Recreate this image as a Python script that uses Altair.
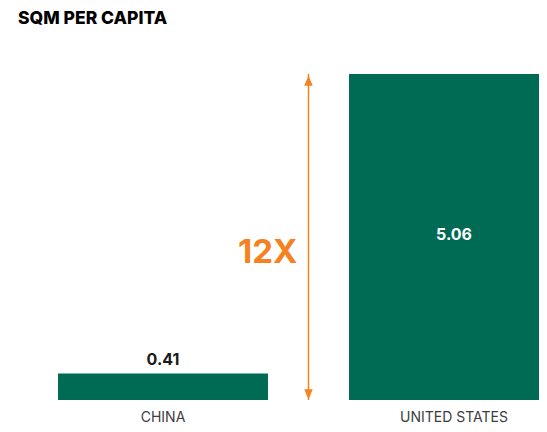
import altair as alt
import pandas as pd

countries = ["CHINA", "UNITED STATES"]
values = [0.41, 5.06]
ratio_label = "12X"
title_text = "SQM PER CAPITA"

GREEN = "#006B55"
ORANGE = "#F5821F"
FONT = "Inter"

df = pd.DataFrame({"country": countries, "value": values})
arrow_df = pd.DataFrame({
    "country": [countries[1]],
    "anchor": [countries[0]],
    "top": [max(values)],
    "bottom": [0.0],
    "mid": [max(values) / 2],
    "label": [ratio_label],
})

PAD_INNER = 0.2784
xscale = alt.Scale(domain=countries, range=[50, 551], paddingInner=PAD_INNER, paddingOuter=0)
yscale = alt.Scale(domain=[0, 5.556], nice=False, zero=True)
xaxis = alt.Axis(title=None, labelAngle=0, ticks=False, domain=False, grid=False,
                 labelFont=FONT, labelFontSize=14, labelColor="#3c3c3c", labelPadding=10)
GAP_HALF = 40.5  # half of the gap between the two bands


def X(field="country:N", **kw):
    return alt.X(field, scale=xscale, axis=xaxis, sort=None, **kw)


base = alt.Chart(df)
bars = base.mark_bar(color=GREEN).encode(
    x=X(), y=alt.Y("value:Q", scale=yscale, axis=None)
)
lab_out = base.transform_filter(alt.datum.value < 1).mark_text(
    font=FONT, fontSize=16, fontWeight="bold", color="#1a1a1a", baseline="alphabetic", dy=-9
).encode(x=X(), y=alt.Y("value:Q", scale=yscale, axis=None), text=alt.Text("value:Q", format=".2f"))
lab_in = base.transform_filter(alt.datum.value >= 1).transform_calculate(
    half="datum.value / 2"
).mark_text(
    font=FONT, fontSize=16, fontWeight="bold", color="white", baseline="alphabetic", dy=3
).encode(x=X(), y=alt.Y("half:Q", scale=yscale, axis=None), text=alt.Text("value:Q", format=".2f"))

arrow_base = alt.Chart(arrow_df)
rule = arrow_base.mark_rule(color=ORANGE, strokeWidth=1.5).encode(
    x=X(bandPosition=0), xOffset=alt.value(-GAP_HALF),
    y=alt.Y("top:Q", scale=yscale, axis=None), y2="bottom:Q"
)
head_up = arrow_base.mark_point(
    shape="M0,0.15L-0.36,1L0.36,1Z", filled=True, color=ORANGE, opacity=1, size=560
).encode(x=X(bandPosition=0), xOffset=alt.value(-GAP_HALF),
         y=alt.Y("top:Q", scale=yscale, axis=None))
head_down = arrow_base.mark_point(
    shape="M0,-0.05L-0.36,-0.9L0.36,-0.9Z", filled=True, color=ORANGE, opacity=1, size=560
).encode(x=X(bandPosition=0), xOffset=alt.value(-GAP_HALF),
         y=alt.Y("bottom:Q", scale=yscale, axis=None))
ratio = arrow_base.mark_text(
    font=FONT, fontSize=33, fontWeight="bold", color=ORANGE, align="right",
    baseline="alphabetic", dx=GAP_HALF - 11, dy=26
).encode(x=X("anchor:N", bandPosition=1), y=alt.Y("mid:Q", scale=yscale, axis=None), text="label:N")

chart = alt.layer(bars, lab_out, lab_in, rule, head_up, head_down, ratio).properties(
    width=531, height=358,
    title=alt.TitleParams(title_text, anchor="start", frame="group", dx=10, offset=15,
                          font=FONT, fontSize=17.5, fontWeight=800, color="#000000"),
    autosize=alt.AutoSizeParams(type="none"),
    padding={"top": 34, "left": 0, "right": 0, "bottom": 24},
).configure_view(stroke=None)

chart.save("out.html", embed_options={"renderer": "svg", "actions": False})
